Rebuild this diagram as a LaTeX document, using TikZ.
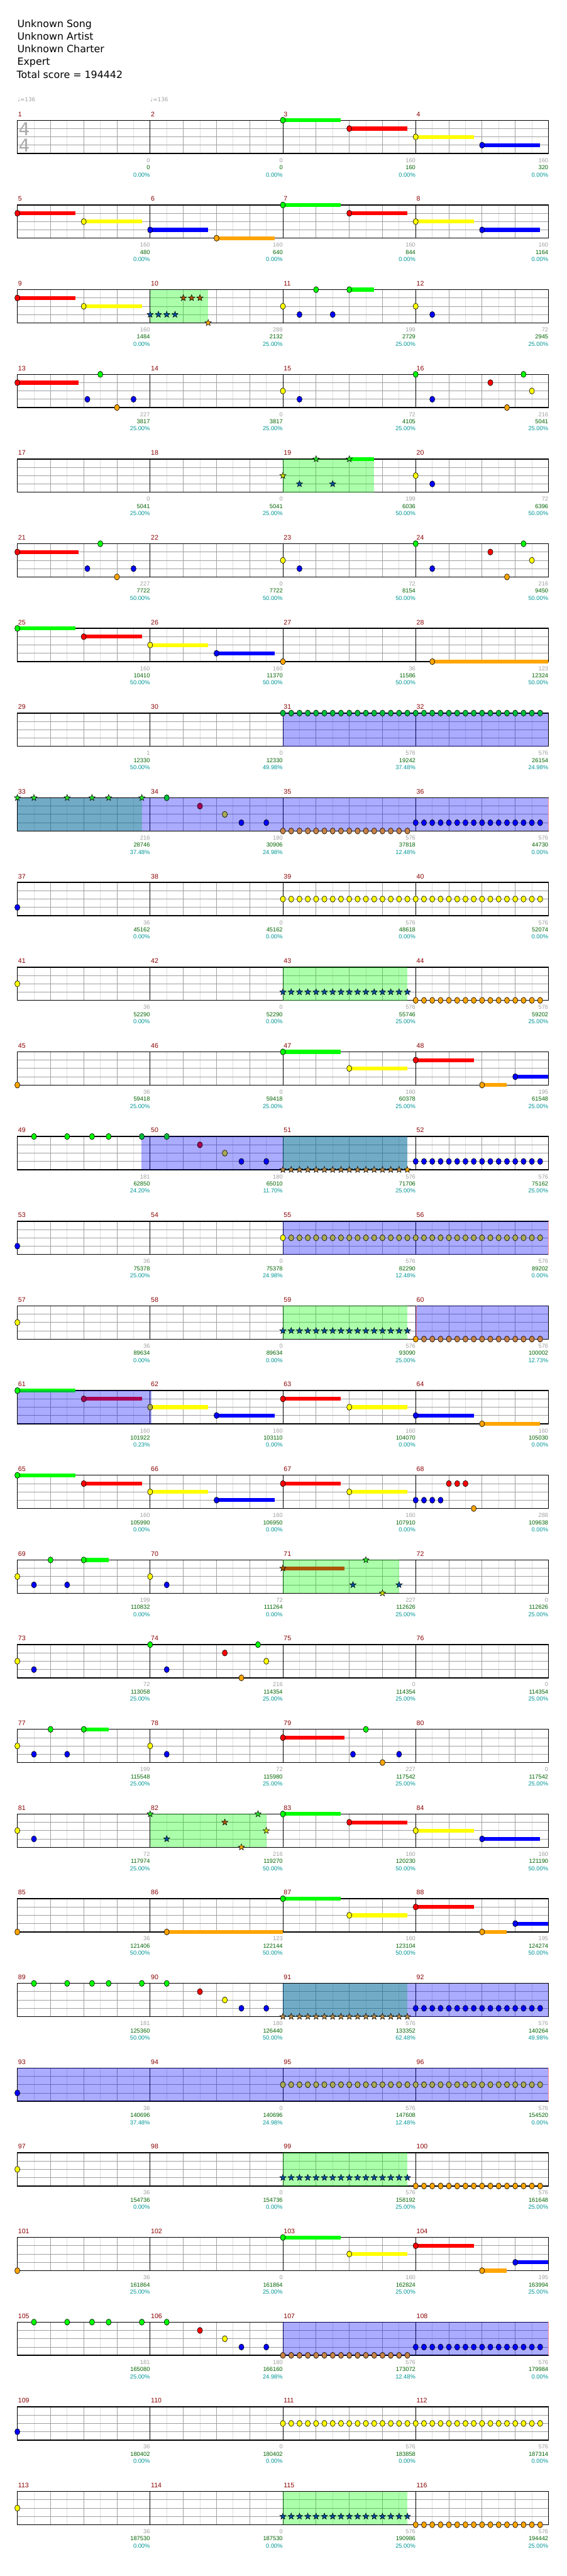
\documentclass[tikz,border=0pt]{standalone}
\usepackage{fontspec}
\setmainfont{DejaVu Sans}
\newfontfamily\lblfont{Liberation Sans}
\usetikzlibrary{shapes.geometric}
\definecolor{nG}{RGB}{0,255,0}
\definecolor{nR}{RGB}{255,0,0}
\definecolor{nY}{RGB}{255,255,0}
\definecolor{nB}{RGB}{0,0,255}
\definecolor{nO}{RGB}{255,165,0}
\definecolor{tG}{RGB}{0,190,60}
\definecolor{tR}{RGB}{170,0,85}
\definecolor{tY}{RGB}{170,170,85}
\definecolor{tO}{RGB}{200,130,70}
\definecolor{sG}{RGB}{40,230,40}
\definecolor{sR}{RGB}{170,85,0}
\definecolor{sY}{RGB}{200,220,0}
\definecolor{sB}{RGB}{0,80,160}
\definecolor{sO}{RGB}{255,170,0}
\definecolor{tsO}{RGB}{190,140,70}
\definecolor{lgray}{RGB}{160,160,160}
\definecolor{lgreen}{RGB}{0,100,0}
\definecolor{lteal}{RGB}{0,150,150}
\definecolor{mred}{RGB}{139,0,0}
\definecolor{gridl}{RGB}{222,222,222}
\definecolor{gridd}{RGB}{160,160,160}
\definecolor{tsgray}{RGB}{170,170,170}
\tikzset{
  lgrid/.style={gridl, line width=0.5pt},
  dgrid/.style={gridd, line width=0.5pt},
  barl/.style={black, line width=0.5pt},
  border/.style={black, line width=0.8pt},
  nstyle/.style={draw=black, line width=0.35pt},
  starn/.style={star, star points=5, star point ratio=2.4, minimum size=6pt, inner sep=0pt, draw=black, line width=0.3pt},
  mnum/.style={anchor=base west, inner sep=0pt, text=mred, font=\lblfont\fontsize{6pt}{7pt}\selectfont},
  lab/.style={anchor=base east, inner sep=0pt, font=\lblfont\fontsize{5.3pt}{6pt}\selectfont},
  hdr/.style={anchor=base west, inner sep=0pt, font=\fontsize{9pt}{10pt}\selectfont},
  tempo/.style={anchor=base west, inner sep=0pt, text=lgray, font=\fontsize{5pt}{6pt}\selectfont},
  tsig/.style={inner sep=0pt, text=tsgray, font=\fontsize{16pt}{16pt}\selectfont}
}
\newcommand\staff[1]{%
  \foreach \b in {0.5,1.5,...,15.5} \draw[lgrid] (\b,0) -- (\b,60);
  \foreach \b in {1,2,3,5,6,7,9,10,11,13,14,15} \draw[dgrid] (\b,0) -- (\b,60);
  \foreach \yy in {15,30,45} \draw[dgrid] (0,\yy) -- (16,\yy);
  \foreach \b in {4,8,12} \draw[barl] (\b,0) -- (\b,60);
  \draw[border] (0,0) rectangle (16,60);
  \foreach \m in {0,1,2,3} {\pgfmathtruncatemacro\mn{#1+\m}\node[mnum] (mn#1x\m) at ({4*\m+0.02},-7) {\mn};}
}
\newcommand\lbl[4]{%
  \node[lab, text=lgray] at ({4*#1+4},76) {#2};
  \node[lab, text=lgreen] at ({4*#1+4},89) {#3};
  \node[lab, text=lteal] at ({4*#1+4},102) {#4};}
\newcommand\nt[3]{\draw[nstyle,fill=#3] (#1,{15*#2}) ellipse [x radius=2.3pt,y radius=2.75pt];}
\newcommand\sus[4]{\fill[#4] (#1,{15*#3-3.5}) rectangle ({#1+#2},{15*#3+3.5});}
\newcommand\sn[4]{\sus{#1}{#4}{#2}{#3}\nt{#1}{#2}{#3}}
\newcommand\st[3]{\node[starn,fill=#3] at (#1,{15*#2}) {};}
\newcommand\gsh[2]{\fill[nG,opacity=0.33] (#1,0) rectangle (#2,60);}
\newcommand\bsh[2]{\fill[nB,opacity=0.33] (#1,0) rectangle (#2,60);}
\newcommand\pinkl[1]{\draw[red!45, line width=0.6pt] (#1,0) -- (#1,60);}
\newcommand\seq[5]{\foreach \p in {#1,#2,...,#3} {\nt{\p}{#4}{#5}}}
\newcommand\sseq[5]{\foreach \p in {#1,#2,...,#3} {\st{\p}{#4}{#5}}}
\begin{document}
\begin{tikzpicture}[x=30pt,y=-0.5pt]
\useasboundingbox (-15.675pt,108.65pt) rectangle (496.325pt,-2218.35pt);
\fill[white] (-15.675pt,108.65pt) rectangle (496.325pt,-2218.35pt);
% header
\node[hdr] (h1) at (-0.2pt,84.15pt) {Unknown Song};
\node[hdr] (h2) at (-0.2pt,72.65pt) {Unknown Artist};
\node[hdr] (h3) at (-0.2pt,61.15pt) {Unknown Charter};
\node[hdr] (h4) at (-0.2pt,49.65pt) {Expert};
\node[hdr] (h5) at (-0.7pt,38.15pt) {Total score = 194442};
\node[tempo] (t1) at (0,-33.3) {♩=136};
\node[tempo] (t2) at (4,-33.3) {♩=136};
% ---------------- row 0
\begin{scope}[yshift=0pt]
\staff{1}
\node[tsig] (ts1) at (0.21,16) {4};
\node[tsig] (ts2) at (0.21,45) {4};
\sn{8}{0}{nG}{1.75}\sn{10}{1}{nR}{1.75}\sn{12}{2}{nY}{1.75}\sn{14}{3}{nB}{1.75}
\lbl{0}{0}{0}{0.00\%}\lbl{1}{0}{0}{0.00\%}\lbl{2}{160}{160}{0.00\%}\lbl{3}{160}{320}{0.00\%}
\end{scope}
% ---------------- row 1
\begin{scope}[yshift=-76.5pt]
\staff{5}
\sn{0}{1}{nR}{1.75}\sn{2}{2}{nY}{1.75}\sn{4}{3}{nB}{1.75}\sn{6}{4}{nO}{1.75}
\sn{8}{0}{nG}{1.75}\sn{10}{1}{nR}{1.75}\sn{12}{2}{nY}{1.75}\sn{14}{3}{nB}{1.75}
\lbl{0}{160}{480}{0.00\%}\lbl{1}{160}{640}{0.00\%}\lbl{2}{160}{844}{0.00\%}\lbl{3}{160}{1164}{0.00\%}
\end{scope}
% ---------------- row 2
\begin{scope}[yshift=-153pt]
\staff{9}
\gsh{4}{5.75}
\sn{0}{1}{nR}{1.75}\sn{2}{2}{nY}{1.75}
\st{4}{3}{sB}\st{4.25}{3}{sB}\st{4.5}{3}{sB}\st{4.75}{3}{sB}
\st{5}{1}{sR}\st{5.25}{1}{sR}\st{5.5}{1}{sR}\st{5.75}{4}{sO}
\nt{8}{2}{nY}\nt{8.5}{3}{nB}\nt{9}{0}{nG}\nt{9.5}{3}{nB}\sn{10}{0}{nG}{0.75}
\nt{12}{2}{nY}\nt{12.5}{3}{nB}
\lbl{0}{160}{1484}{0.00\%}\lbl{1}{288}{2132}{25.00\%}\lbl{2}{199}{2729}{25.00\%}\lbl{3}{72}{2945}{25.00\%}
\end{scope}
% ---------------- row 3
\begin{scope}[yshift=-229.5pt]
\staff{13}
\sn{0}{1}{nR}{1.85}\nt{2.11}{3}{nB}\nt{2.5}{0}{nG}\nt{3}{4}{nO}\nt{3.5}{3}{nB}
\nt{8}{2}{nY}\nt{8.5}{3}{nB}\nt{12}{0}{nG}\nt{12.5}{3}{nB}
\nt{14.25}{1}{nR}\nt{14.75}{4}{nO}\nt{15.25}{0}{nG}\nt{15.5}{2}{nY}
\lbl{0}{227}{3817}{25.00\%}\lbl{1}{0}{3817}{25.00\%}\lbl{2}{72}{4105}{25.00\%}\lbl{3}{216}{5041}{25.00\%}
\end{scope}
% ---------------- row 4
\begin{scope}[yshift=-306pt]
\staff{17}
\gsh{8}{10.75}
\sus{10}{0.75}{0}{nG}
\st{8}{2}{sY}\st{8.5}{3}{sB}\st{9}{0}{sG}\st{9.5}{3}{sB}\st{10}{0}{sG}
\nt{12}{2}{nY}\nt{12.5}{3}{nB}
\lbl{0}{0}{5041}{25.00\%}\lbl{1}{0}{5041}{25.00\%}\lbl{2}{199}{6036}{50.00\%}\lbl{3}{72}{6396}{50.00\%}
\end{scope}
% ---------------- row 5
\begin{scope}[yshift=-382.5pt]
\staff{21}
\sn{0}{1}{nR}{1.85}\nt{2.11}{3}{nB}\nt{2.5}{0}{nG}\nt{3}{4}{nO}\nt{3.5}{3}{nB}
\nt{8}{2}{nY}\nt{8.5}{3}{nB}\nt{12}{0}{nG}\nt{12.5}{3}{nB}
\nt{14.25}{1}{nR}\nt{14.75}{4}{nO}\nt{15.25}{0}{nG}\nt{15.5}{2}{nY}
\lbl{0}{227}{7722}{50.00\%}\lbl{1}{0}{7722}{50.00\%}\lbl{2}{72}{8154}{50.00\%}\lbl{3}{216}{9450}{50.00\%}
\end{scope}
% ---------------- row 6
\begin{scope}[yshift=-459pt]
\staff{25}
\sn{0}{0}{nG}{1.75}\sn{2}{1}{nR}{1.75}\sn{4}{2}{nY}{1.75}\sn{6}{3}{nB}{1.75}
\nt{8}{4}{nO}\sn{12.5}{4}{nO}{3.5}
\lbl{0}{160}{10410}{50.00\%}\lbl{1}{160}{11370}{50.00\%}\lbl{2}{36}{11586}{50.00\%}\lbl{3}{123}{12324}{50.00\%}
\end{scope}
% ---------------- row 7
\begin{scope}[yshift=-535.5pt]
\staff{29}
\bsh{8}{16}
\seq{8}{8.25}{15.75}{0}{tG}
\lbl{0}{1}{12330}{50.00\%}\lbl{1}{0}{12330}{49.98\%}\lbl{2}{576}{19242}{37.48\%}\lbl{3}{576}{26154}{24.98\%}
\end{scope}
% ---------------- row 8
\begin{scope}[yshift=-612pt]
\staff{33}
\gsh{0}{3.75}\bsh{0}{16}\pinkl{16}
\st{0}{0}{sG}\st{0.5}{0}{sG}\st{1.5}{0}{sG}\st{2.25}{0}{sG}\st{2.75}{0}{sG}\st{3.75}{0}{sG}
\nt{4.5}{0}{tG}\nt{5.5}{1}{tR}\nt{6.25}{2}{tY}\nt{6.75}{3}{nB}\nt{7.5}{3}{nB}
\seq{8}{8.25}{11.75}{4}{tO}
\seq{12}{12.25}{15.75}{3}{nB}
\lbl{0}{216}{28746}{37.48\%}\lbl{1}{180}{30906}{24.98\%}\lbl{2}{576}{37818}{12.48\%}\lbl{3}{576}{44730}{0.00\%}
\end{scope}
% ---------------- row 9
\begin{scope}[yshift=-688.5pt]
\staff{37}
\nt{0}{3}{nB}
\seq{8}{8.25}{15.75}{2}{nY}
\lbl{0}{36}{45162}{0.00\%}\lbl{1}{0}{45162}{0.00\%}\lbl{2}{576}{48618}{0.00\%}\lbl{3}{576}{52074}{0.00\%}
\end{scope}
% ---------------- row 10
\begin{scope}[yshift=-765pt]
\staff{41}
\gsh{8}{11.75}
\nt{0}{2}{nY}
\sseq{8}{8.25}{11.75}{3}{sB}
\seq{12}{12.25}{15.75}{4}{nO}
\lbl{0}{36}{52290}{0.00\%}\lbl{1}{0}{52290}{0.00\%}\lbl{2}{576}{55746}{25.00\%}\lbl{3}{576}{59202}{25.00\%}
\end{scope}
% ---------------- row 11
\begin{scope}[yshift=-841.5pt]
\staff{45}
\nt{0}{4}{nO}
\sn{8}{0}{nG}{1.75}\sn{10}{2}{nY}{1.75}\sn{12}{1}{nR}{1.75}\sn{14}{4}{nO}{0.75}\sn{15}{3}{nB}{1}
\lbl{0}{36}{59418}{25.00\%}\lbl{1}{0}{59418}{25.00\%}\lbl{2}{160}{60378}{25.00\%}\lbl{3}{195}{61548}{25.00\%}
\end{scope}
% ---------------- row 12
\begin{scope}[yshift=-918pt]
\staff{49}
\gsh{8}{11.75}\bsh{3.73}{11.75}
\nt{0.5}{0}{nG}\nt{1.5}{0}{nG}\nt{2.25}{0}{nG}\nt{2.75}{0}{nG}\nt{3.75}{0}{tG}\nt{4.5}{0}{tG}
\nt{5.5}{1}{tR}\nt{6.25}{2}{tY}\nt{6.75}{3}{nB}\nt{7.5}{3}{nB}
\sseq{8}{8.25}{11.5}{4}{tsO}\st{11.75}{4}{sO}
\seq{12}{12.25}{15.75}{3}{nB}
\lbl{0}{181}{62850}{24.20\%}\lbl{1}{180}{65010}{11.70\%}\lbl{2}{576}{71706}{25.00\%}\lbl{3}{576}{75162}{25.00\%}
\end{scope}
% ---------------- row 13
\begin{scope}[yshift=-994.5pt]
\staff{53}
\bsh{8}{16}\pinkl{16}
\nt{0}{3}{nB}
\seq{8.25}{8.5}{15.75}{2}{tY}\nt{8}{2}{nY}
\lbl{0}{36}{75378}{25.00\%}\lbl{1}{0}{75378}{24.98\%}\lbl{2}{576}{82290}{12.48\%}\lbl{3}{576}{89202}{0.00\%}
\end{scope}
% ---------------- row 14
\begin{scope}[yshift=-1071pt]
\staff{57}
\gsh{8}{11.75}\bsh{12}{16}\pinkl{12.02}
\nt{0}{2}{nY}
\sseq{8}{8.25}{11.75}{3}{sB}
\seq{12.25}{12.5}{15.75}{4}{tO}\nt{12}{4}{nO}
\lbl{0}{36}{89634}{0.00\%}\lbl{1}{0}{89634}{0.00\%}\lbl{2}{576}{93090}{25.00\%}\lbl{3}{576}{100002}{12.73\%}
\end{scope}
% ---------------- row 15
\begin{scope}[yshift=-1147.5pt]
\staff{61}
\bsh{0}{4.05}
\fill[nG] (0,-3.5) rectangle (1.75,0);\fill[tG] (0,0) rectangle (1.75,3.5);\nt{0}{0}{nG}
\sn{2}{1}{tR}{1.75}\sus{4}{1.75}{2}{nY}\nt{4}{2}{tY}
\sn{6}{3}{nB}{1.75}\sn{8}{1}{nR}{1.75}\sn{10}{2}{nY}{1.75}\sn{12}{3}{nB}{1.75}\sn{14}{4}{nO}{1.75}
\lbl{0}{160}{101922}{0.23\%}\lbl{1}{160}{103110}{0.00\%}\lbl{2}{160}{104070}{0.00\%}\lbl{3}{160}{105030}{0.00\%}
\end{scope}
% ---------------- row 16
\begin{scope}[yshift=-1224pt]
\staff{65}
\sn{0}{0}{nG}{1.75}\sn{2}{1}{nR}{1.75}\sn{4}{2}{nY}{1.75}\sn{6}{3}{nB}{1.75}
\sn{8}{1}{nR}{1.75}\sn{10}{2}{nY}{1.75}
\nt{12}{3}{nB}\nt{12.25}{3}{nB}\nt{12.5}{3}{nB}\nt{12.75}{3}{nB}
\nt{13}{1}{nR}\nt{13.25}{1}{nR}\nt{13.5}{1}{nR}\nt{13.75}{4}{nO}
\lbl{0}{160}{105990}{0.00\%}\lbl{1}{160}{106950}{0.00\%}\lbl{2}{160}{107910}{0.00\%}\lbl{3}{288}{109638}{0.00\%}
\end{scope}
% ---------------- row 17
\begin{scope}[yshift=-1300.5pt]
\staff{69}
\gsh{8}{11.5}
\nt{0}{2}{nY}\nt{0.5}{3}{nB}\nt{1}{0}{nG}\nt{1.5}{3}{nB}\sn{2}{0}{nG}{0.75}\nt{4}{2}{nY}\nt{4.5}{3}{nB}
\sus{8}{1.86}{1}{sR}\st{8}{1}{sR}\st{10.11}{3}{sB}\st{10.5}{0}{sG}\st{11}{4}{sY}\st{11.5}{3}{sB}
\lbl{0}{199}{110832}{0.00\%}\lbl{1}{72}{111264}{0.00\%}\lbl{2}{227}{112626}{25.00\%}\lbl{3}{0}{112626}{25.00\%}
\end{scope}
% ---------------- row 18
\begin{scope}[yshift=-1377pt]
\staff{73}
\nt{0}{2}{nY}\nt{0.5}{3}{nB}\nt{4}{0}{nG}\nt{4.5}{3}{nB}\nt{6.25}{1}{nR}\nt{6.75}{4}{nO}\nt{7.25}{0}{nG}\nt{7.5}{2}{nY}
\lbl{0}{72}{113058}{25.00\%}\lbl{1}{216}{114354}{25.00\%}\lbl{2}{0}{114354}{25.00\%}\lbl{3}{0}{114354}{25.00\%}
\end{scope}
% ---------------- row 19
\begin{scope}[yshift=-1453.5pt]
\staff{77}
\nt{0}{2}{nY}\nt{0.5}{3}{nB}\nt{1}{0}{nG}\nt{1.5}{3}{nB}\sn{2}{0}{nG}{0.75}\nt{4}{2}{nY}\nt{4.5}{3}{nB}
\sn{8}{1}{nR}{1.86}\nt{10.11}{3}{nB}\nt{10.5}{0}{nG}\nt{11}{4}{nO}\nt{11.5}{3}{nB}
\lbl{0}{199}{115548}{25.00\%}\lbl{1}{72}{115980}{25.00\%}\lbl{2}{227}{117542}{25.00\%}\lbl{3}{0}{117542}{25.00\%}
\end{scope}
% ---------------- row 20
\begin{scope}[yshift=-1530pt]
\staff{81}
\gsh{4}{7.5}
\nt{0}{2}{nY}\nt{0.5}{3}{nB}
\st{4}{0}{sG}\st{4.5}{3}{sB}\st{6.25}{1}{sR}\st{6.75}{4}{sO}\st{7.25}{0}{sG}\st{7.5}{2}{sY}
\sn{8}{0}{nG}{1.75}\sn{10}{1}{nR}{1.75}\sn{12}{2}{nY}{1.75}\sn{14}{3}{nB}{1.75}
\lbl{0}{72}{117974}{25.00\%}\lbl{1}{216}{119270}{50.00\%}\lbl{2}{160}{120230}{50.00\%}\lbl{3}{160}{121190}{50.00\%}
\end{scope}
% ---------------- row 21
\begin{scope}[yshift=-1606.5pt]
\staff{85}
\nt{0}{4}{nO}\sn{4.5}{4}{nO}{3.5}
\sn{8}{0}{nG}{1.75}\sn{10}{2}{nY}{1.75}\sn{12}{1}{nR}{1.75}\sn{14}{4}{nO}{0.75}\sn{15}{3}{nB}{1}
\lbl{0}{36}{121406}{50.00\%}\lbl{1}{123}{122144}{50.00\%}\lbl{2}{160}{123104}{50.00\%}\lbl{3}{195}{124274}{50.00\%}
\end{scope}
% ---------------- row 22
\begin{scope}[yshift=-1683pt]
\staff{89}
\gsh{8}{11.75}\bsh{8}{16}
\nt{0.5}{0}{nG}\nt{1.5}{0}{nG}\nt{2.25}{0}{nG}\nt{2.75}{0}{nG}\nt{3.75}{0}{nG}\nt{4.5}{0}{nG}
\nt{5.5}{1}{nR}\nt{6.25}{2}{nY}\nt{6.75}{3}{nB}\nt{7.5}{3}{nB}
\sseq{8}{8.25}{11.75}{4}{tsO}
\seq{12}{12.25}{15.75}{3}{nB}
\lbl{0}{181}{125360}{50.00\%}\lbl{1}{180}{126440}{50.00\%}\lbl{2}{576}{133352}{62.48\%}\lbl{3}{576}{140264}{49.98\%}
\end{scope}
% ---------------- row 23
\begin{scope}[yshift=-1759.5pt]
\staff{93}
\bsh{0}{16}\pinkl{16}
\nt{0}{3}{nB}
\seq{8}{8.25}{15.75}{2}{tY}
\lbl{0}{36}{140696}{37.48\%}\lbl{1}{0}{140696}{24.98\%}\lbl{2}{576}{147608}{12.48\%}\lbl{3}{576}{154520}{0.00\%}
\end{scope}
% ---------------- row 24
\begin{scope}[yshift=-1836pt]
\staff{97}
\gsh{8}{11.75}
\nt{0}{2}{nY}
\sseq{8}{8.25}{11.75}{3}{sB}
\seq{12}{12.25}{15.75}{4}{nO}
\lbl{0}{36}{154736}{0.00\%}\lbl{1}{0}{154736}{0.00\%}\lbl{2}{576}{158192}{25.00\%}\lbl{3}{576}{161648}{25.00\%}
\end{scope}
% ---------------- row 25
\begin{scope}[yshift=-1912.5pt]
\staff{101}
\nt{0}{4}{nO}
\sn{8}{0}{nG}{1.75}\sn{10}{2}{nY}{1.75}\sn{12}{1}{nR}{1.75}\sn{14}{4}{nO}{0.75}\sn{15}{3}{nB}{1}
\lbl{0}{36}{161864}{25.00\%}\lbl{1}{0}{161864}{25.00\%}\lbl{2}{160}{162824}{25.00\%}\lbl{3}{195}{163994}{25.00\%}
\end{scope}
% ---------------- row 26
\begin{scope}[yshift=-1989pt]
\staff{105}
\bsh{8}{16}\pinkl{16}
\nt{0.5}{0}{nG}\nt{1.5}{0}{nG}\nt{2.25}{0}{nG}\nt{2.75}{0}{nG}\nt{3.75}{0}{nG}\nt{4.5}{0}{nG}
\nt{5.5}{1}{nR}\nt{6.25}{2}{nY}\nt{6.75}{3}{nB}\nt{7.5}{3}{nB}
\seq{8}{8.25}{11.75}{4}{tO}
\seq{12}{12.25}{15.75}{3}{nB}
\lbl{0}{181}{165080}{25.00\%}\lbl{1}{180}{166160}{24.98\%}\lbl{2}{576}{173072}{12.48\%}\lbl{3}{576}{179984}{0.00\%}
\end{scope}
% ---------------- row 27
\begin{scope}[yshift=-2065.5pt]
\staff{109}
\nt{0}{3}{nB}
\seq{8}{8.25}{15.75}{2}{nY}
\lbl{0}{36}{180402}{0.00\%}\lbl{1}{0}{180402}{0.00\%}\lbl{2}{576}{183858}{0.00\%}\lbl{3}{576}{187314}{0.00\%}
\end{scope}
% ---------------- row 28
\begin{scope}[yshift=-2142pt]
\staff{113}
\gsh{8}{11.75}
\nt{0}{2}{nY}
\sseq{8}{8.25}{11.75}{3}{sB}
\seq{12}{12.25}{15.75}{4}{nO}
\lbl{0}{36}{187530}{0.00\%}\lbl{1}{0}{187530}{0.00\%}\lbl{2}{576}{190986}{25.00\%}\lbl{3}{576}{194442}{25.00\%}
\end{scope}
\end{tikzpicture}
\end{document}
